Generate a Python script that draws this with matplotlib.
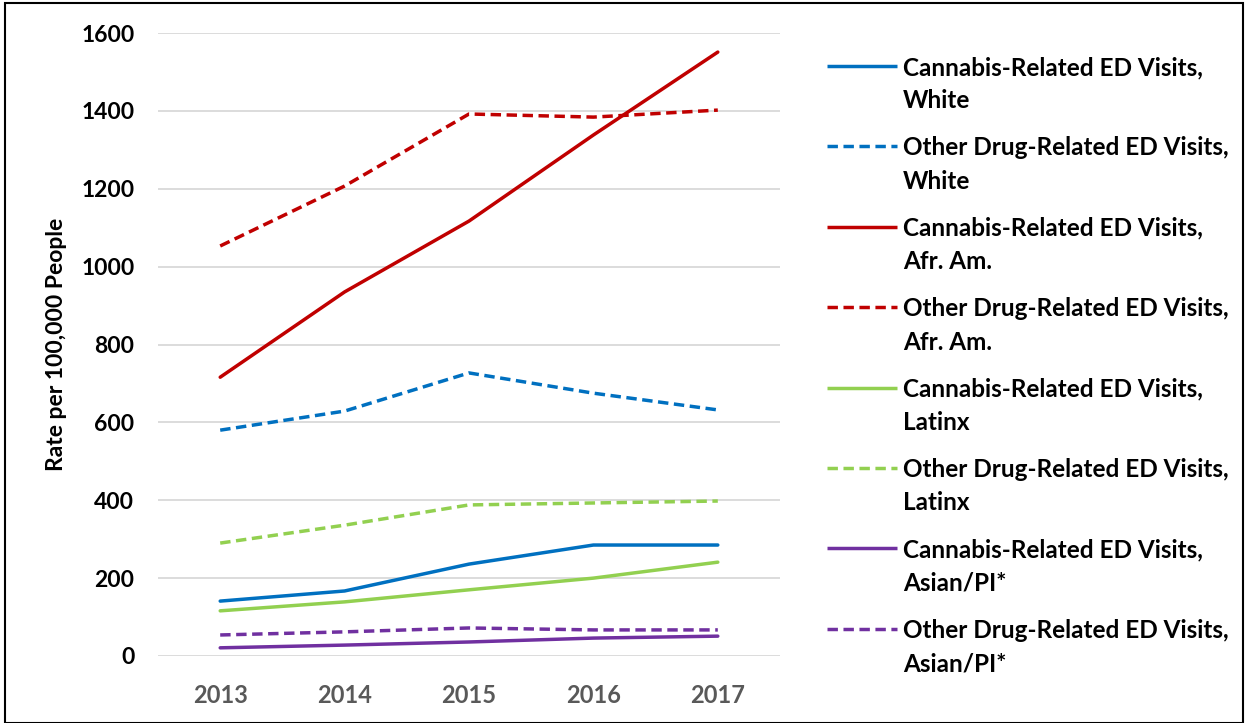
import matplotlib
matplotlib.use("Agg")
import matplotlib.pyplot as plt
from matplotlib.lines import Line2D
from matplotlib.patches import Rectangle

plt.rcParams['font.family'] = ['Lato', 'DejaVu Sans']

years = ["2013", "2014", "2015", "2016", "2017"]
cannabis_white = [141, 167, 236, 285, 285]
other_white = [580, 629, 727, 675, 632]
cannabis_afram = [716, 935, 1117, 1338, 1551]
other_afram = [1053, 1207, 1392, 1384, 1402]
cannabis_latinx = [116, 139, 170, 200, 241]
other_latinx = [290, 336, 388, 393, 398]
cannabis_asian = [21, 28, 36, 46, 51]
other_asian = [54, 62, 72, 67, 67]

labels = [
    ("Cannabis-Related ED Visits,", "White"),
    ("Other Drug-Related ED Visits,", "White"),
    ("Cannabis-Related ED Visits,", "Afr. Am."),
    ("Other Drug-Related ED Visits,", "Afr. Am."),
    ("Cannabis-Related ED Visits,", "Latinx"),
    ("Other Drug-Related ED Visits,", "Latinx"),
    ("Cannabis-Related ED Visits,", "Asian/PI*"),
    ("Other Drug-Related ED Visits,", "Asian/PI*"),
]
series = [cannabis_white, other_white, cannabis_afram, other_afram,
          cannabis_latinx, other_latinx, cannabis_asian, other_asian]
colors = ["#0070C0", "#0070C0", "#C00000", "#C00000",
          "#92D050", "#92D050", "#7030A0", "#7030A0"]
dashed = [False, True, False, True, False, True, False, True]

W, H = 1246, 723
fig = plt.figure(figsize=(W / 100, H / 100), dpi=100)
ax = fig.add_axes([158 / W, 1 - 656 / H, (780 - 158) / W, (656 - 33) / H])

x = list(range(len(years)))
lw = 2.5
for s, c, d in zip(series, colors, dashed):
    if d:
        ax.plot(x, s, color=c, lw=lw, dashes=(3.0, 1.6), solid_capstyle='butt')
    else:
        ax.plot(x, s, color=c, lw=lw, solid_capstyle='round')

ax.set_xlim(-0.5, 4.5)
ax.set_ylim(0, 1600)
ax.set_yticks(range(0, 1601, 200))
ax.set_xticks(x)
ax.set_xticklabels(years)
ax.yaxis.grid(True, color="#D9D9D9", lw=1.3)
ax.set_axisbelow(True)
for sp in ax.spines.values():
    sp.set_visible(False)
ax.tick_params(axis='both', length=0)
ax.tick_params(axis='y', pad=17, labelsize=16.5, labelcolor='black')
ax.tick_params(axis='x', pad=20, labelsize=17, labelcolor='#595959')
for t in ax.get_yticklabels() + ax.get_xticklabels():
    t.set_fontweight('bold')
ax.set_ylabel("Rate per 100,000 People", fontsize=16.5, fontweight='bold', labelpad=10)

# legend drawn manually
y0 = 66
step = 80.4
for i, ((l1, l2), c, d) in enumerate(zip(labels, colors, dashed)):
    yc = y0 + i * step
    yy = 1 - yc / H
    ln = Line2D([827 / W, 897 / W], [yy, yy], transform=fig.transFigure,
                color=c, lw=lw, solid_capstyle='butt')
    if d:
        ln.set_dashes((3.0, 1.6))
    fig.add_artist(ln)
    fig.text(903 / W, 1 - (yc + 9) / H, l1, fontsize=17.5, fontweight='bold',
             va='baseline', ha='left')
    fig.text(903 / W, 1 - (yc + 42.5) / H, l2, fontsize=17.5, fontweight='bold',
             va='baseline', ha='left')

fig.add_artist(Rectangle((5 / W, 0), (1243 - 5) / W, 1 - 3 / H,
                         transform=fig.transFigure, fill=False,
                         edgecolor='black', lw=1.5))

fig.savefig("out.png", dpi=100)
